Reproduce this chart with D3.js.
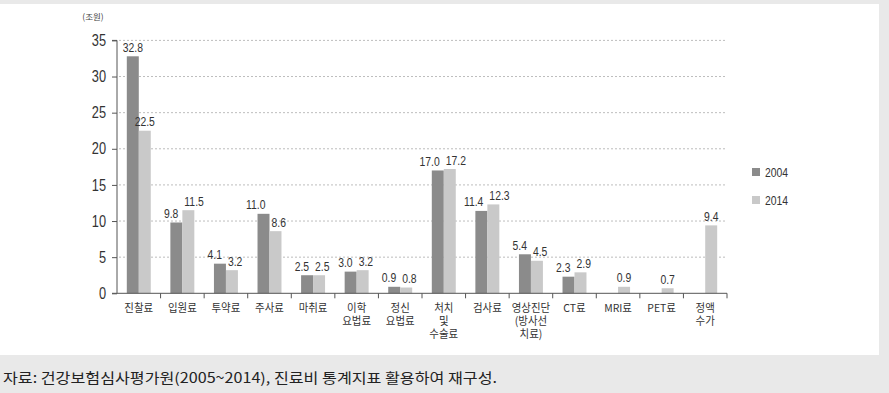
<!DOCTYPE html>
<html><head><meta charset="utf-8">
<script src="https://cdn.jsdelivr.net/npm/d3@7"></script>
<style>body{margin:0;background:#e9e9e9;} svg{display:block;}</style>
</head><body>
<svg id="c" width="889" height="393"></svg>
<script>
const categories = [["진찰료"],["입원료"],["투약료"],["주사료"],["마취료"],["이학","요법료"],["정신","요법료"],["처치","및","수술료"],["검사료"],["영상진단","(방사선","치료)"],["CT료"],["MRI료"],["PET료"],["정액","수가"]];
const series2004 = [32.8, 9.8, 4.1, 11.0, 2.5, 3.0, 0.9, 17.0, 11.4, 5.4, 2.3, null, null, null];
const series2014 = [22.5, 11.5, 3.2, 8.6, 2.5, 3.2, 0.8, 17.2, 12.3, 4.5, 2.9, 0.9, 0.7, 9.4];
const seriesNames = ["2004", "2014"];
const yTicks = [0, 5, 10, 15, 20, 25, 30, 35];
const unitLabel = "(조원)";
const caption = "자료: 건강보험심사평가원(2005~2014), 진료비 통계지표 활용하여 재구성.";

const colors = ["#8b8b8b", "#c9c9c9"];
const latin = "'Liberation Sans','Noto Sans CJK KR',sans-serif";
const kr = "'Noto Sans CJK KR',sans-serif";

const svg = d3.select("#c");
svg.append("rect").attr("x",0).attr("y",4).attr("width",879).attr("height",351).attr("fill","#fff");

const x0 = 117, x1 = 727, yTop = 40.4, yBot = 293.3;
const x = d3.scaleBand().domain(d3.range(categories.length)).range([x0, x1]).paddingInner(0.45).paddingOuter(0.225);
const xs = d3.scaleBand().domain(seriesNames).range([0, x.bandwidth()]);
const y = d3.scaleLinear().domain([0, 35]).range([yBot, yTop]);

// gridlines
svg.append("g").selectAll("line").data(yTicks.filter(d=>d>0)).join("line")
  .attr("x1", x0+2).attr("x2", x1).attr("y1", d=>y(d)).attr("y2", d=>y(d))
  .attr("stroke","#bdbdbd").attr("stroke-width",1).attr("stroke-dasharray","2,2");

// bars
const data = [];
categories.forEach((c,i)=>{
  const a = series2004[i], b = series2014[i];
  const pair = a!=null && b!=null && Math.abs(a-b) < 3;
  [series2004, series2014].forEach((s,k)=>{ if (s[i]!=null) data.push({i, k, v:s[i], pair}); });
});
svg.append("g").selectAll("rect").data(data).join("rect")
  .attr("x", d=>x(d.i)+xs(seriesNames[d.k]))
  .attr("width", xs.bandwidth())
  .attr("y", d=>y(d.v)).attr("height", d=>y(0)-y(d.v))
  .attr("fill", d=>colors[d.k]);

svg.append("g").selectAll("text").data(data).join("text")
  .attr("transform", d=>{
    const cx = x(d.i)+xs(seriesNames[d.k])+xs.bandwidth()/2;
    const off = !d.pair ? 0 : (d.k===0 ? 2 : -4);
    return `translate(${cx+off},${y(d.v)-4.5}) scale(0.8,1)`;
  })
  .attr("text-anchor", d=>!d.pair ? "middle" : (d.k===0 ? "end" : "start"))
  .attr("font-family",latin).attr("font-size",13).attr("fill","#333")
  .text(d=>d.v.toFixed(1));

// y axis
const yAxis = d3.axisLeft(y).tickValues(yTicks).tickSize(5).tickPadding(0);
const gy = svg.append("g").attr("transform",`translate(${x0},0)`).call(yAxis);
gy.select(".domain").attr("stroke","#555").attr("d",`M-5,${yTop}H0V${yBot}`);
gy.selectAll(".tick line").attr("stroke","#555");
gy.selectAll("text").attr("x",null).attr("transform","translate(-11,0) scale(0.8,1)")
  .attr("font-family",latin).attr("font-size",16).attr("fill","#333");

// x axis
const xAxisG = svg.append("g");
xAxisG.append("line").attr("x1",x0-5).attr("x2",x1).attr("y1",yBot).attr("y2",yBot).attr("stroke","#555");
const bounds = d3.range(categories.length).map(i=>x(i)-x.step()*x.paddingInner()/2).slice(1).concat([x1]);
xAxisG.selectAll(".tk").data(bounds).join("line").attr("class","tk")
  .attr("x1",d=>d).attr("x2",d=>d).attr("y1",yBot).attr("y2",yBot+5).attr("stroke","#555");
const lab = xAxisG.selectAll(".lab").data(categories).join("text").attr("class","lab")
  .attr("transform",(d,i)=>`translate(${x(i)+x.bandwidth()/2},312) scale(0.95,1)`)
  .attr("text-anchor","middle").attr("font-family",kr).attr("font-size",11).attr("fill","#333");
lab.selectAll("tspan").data(d=>d).join("tspan")
  .attr("x",0).attr("y",(d,j)=>j*13).text(d=>d);

// unit label
svg.append("text").attr("x",93).attr("y",20).attr("text-anchor","middle")
  .attr("font-family",kr).attr("font-size",8.5).attr("fill","#444").text(unitLabel);

// legend
const lg = svg.append("g").selectAll("g").data(seriesNames).join("g")
  .attr("transform",(d,i)=>`translate(752,${168+i*28})`);
lg.append("rect").attr("width",8).attr("height",8).attr("fill",(d,i)=>colors[i]);
lg.append("text").attr("transform","translate(13,8.5) scale(0.8,1)").attr("font-family",latin).attr("font-size",13).attr("fill","#333").text(d=>d);

// caption
svg.append("text").attr("x",3).attr("y",383).attr("font-family",kr).attr("font-size",14).attr("fill","#222")
  .attr("textLength",494).attr("lengthAdjust","spacingAndGlyphs").text(caption);
</script>
</body></html>
